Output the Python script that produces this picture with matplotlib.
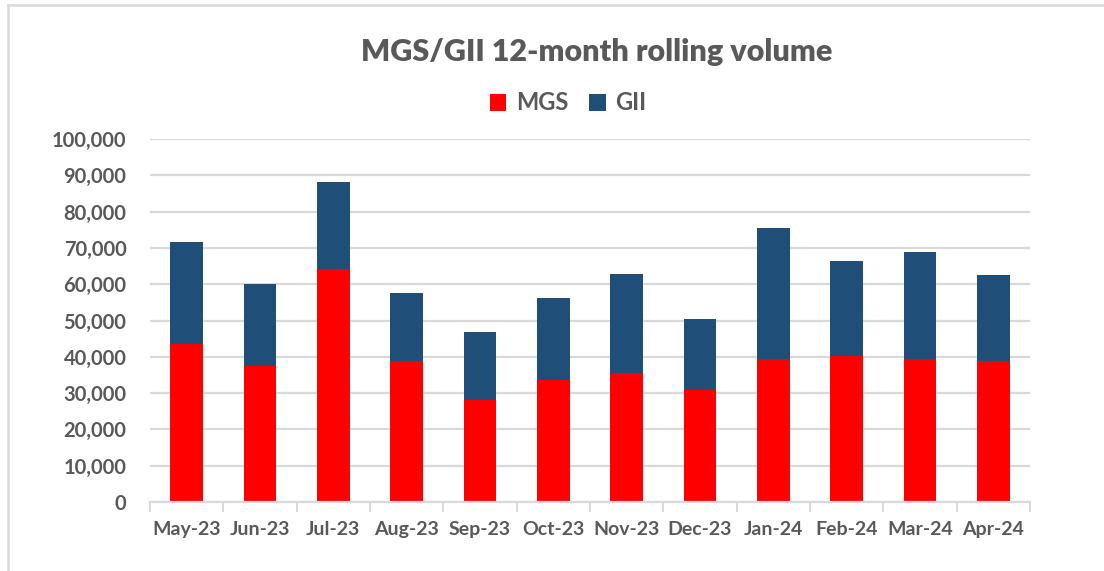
import matplotlib
matplotlib.use("Agg")
import matplotlib.pyplot as plt
from matplotlib.lines import Line2D
from matplotlib.patches import Patch
import numpy as np

months = ["May-23", "Jun-23", "Jul-23", "Aug-23", "Sep-23", "Oct-23",
          "Nov-23", "Dec-23", "Jan-24", "Feb-24", "Mar-24", "Apr-24"]
mgs = [43400, 37500, 64200, 38900, 28000, 33700, 35400, 30900, 39500, 40100, 39500, 38900]
total = [71700, 60000, 88100, 57500, 46700, 56300, 62700, 50400, 75400, 66300, 69000, 62400]
gii = [t - m for t, m in zip(total, mgs)]
yticks = list(range(0, 100001, 10000))

RED = "#FF0000"
BLUE = "#1F4E79"
GRAY_TXT = "#595959"
GRID = "#D9D9D9"
FONT = ["Lato", "DejaVu Sans"]

plt.rcParams["font.family"] = FONT
plt.rcParams["font.weight"] = "bold"

W, H = 1104, 571
fig = plt.figure(figsize=(W / 100, H / 100), dpi=100)
fig.patch.set_facecolor("white")

# outer frame (top and left edges visible)
fig.add_artist(Line2D([8 / W, 1.0], [1 - 5 / H, 1 - 5 / H], color=GRID, lw=1.8, transform=fig.transFigure))
fig.add_artist(Line2D([8 / W, 8 / W], [0.0, 1 - 5 / H], color=GRID, lw=1.8, transform=fig.transFigure))

left, right, bottom, top = 150 / W, 1030 / W, 1 - 502 / H, 1 - 139 / H
ax = fig.add_axes([left, bottom, right - left, top - bottom])

x = np.arange(len(months))
bw = 0.445
ax.bar(x, mgs, width=bw, color=RED, zorder=3, label="MGS")
ax.bar(x, gii, width=bw, bottom=mgs, color=BLUE, zorder=3, label="GII")

ax.set_xlim(-0.5, len(months) - 0.5)
ax.set_ylim(0, 100000)
ax.set_yticks(yticks)
ax.set_yticklabels([f"{v:,}" for v in yticks])
ax.yaxis.grid(True, color=GRID, lw=1.6, zorder=0)
ax.set_axisbelow(True)

for s in ["top", "right", "left"]:
    ax.spines[s].set_visible(False)
ax.spines["bottom"].set_color(GRID)
ax.spines["bottom"].set_linewidth(1.6)
ax.spines["bottom"].set_zorder(4)

ax.set_xticks(x)
ax.set_xticklabels(months)
ax.set_xticks(np.arange(-0.5, len(months), 1.0), minor=True)
ax.tick_params(axis="x", which="major", length=0, pad=14, labelsize=14, labelcolor=GRAY_TXT)
ax.tick_params(axis="x", which="minor", length=7, width=1.4, color=GRID, direction="out")
ax.tick_params(axis="y", which="major", length=0, pad=17, labelsize=14.5, labelcolor=GRAY_TXT)

fig.text(597 / W, 1 - 52 / H, "MGS/GII 12-month rolling volume", ha="center", va="center",
         fontsize=22, fontweight="heavy", color=GRAY_TXT)

handles = [Patch(facecolor=RED, label="MGS"), Patch(facecolor=BLUE, label="GII")]
fig.legend(handles=handles, loc="center", bbox_to_anchor=(568 / W, 1 - 103 / H), ncol=2,
           frameon=False, handlelength=0.7, handleheight=0.7, handletextpad=0.4,
           columnspacing=0.9, prop={"size": 17, "weight": "bold"}, labelcolor=GRAY_TXT)

fig.savefig("out.png", dpi=100, facecolor="white")
